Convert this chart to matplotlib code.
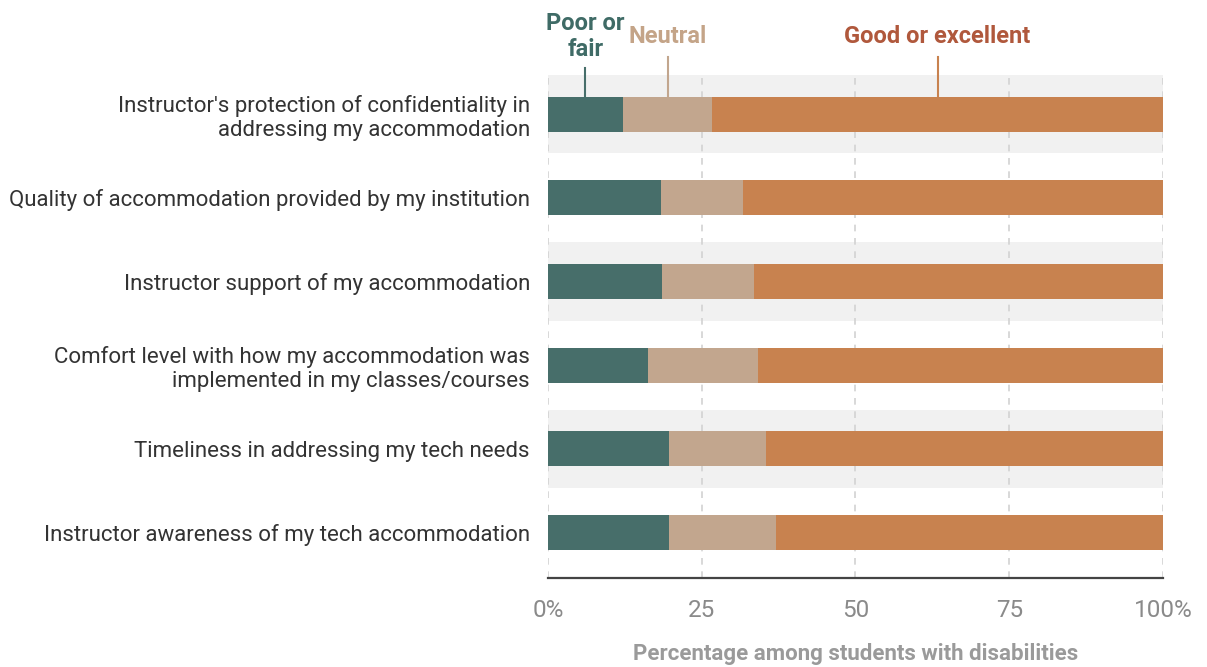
import matplotlib
matplotlib.use('Agg')
import matplotlib.pyplot as plt

plt.rcParams['font.family'] = ['Roboto', 'DejaVu Sans']

categories = [
    "Instructor's protection of confidentiality in\naddressing my accommodation",
    "Quality of accommodation provided by my institution",
    "Instructor support of my accommodation",
    "Comfort level with how my accommodation was\nimplemented in my classes/courses",
    "Timeliness in addressing my tech needs",
    "Instructor awareness of my tech accommodation",
]
poor = [12.2, 18.4, 18.6, 16.3, 19.6, 19.7]
neutral = [14.5, 13.3, 14.9, 17.8, 15.8, 17.3]
good = [round(100 - p - n, 1) for p, n in zip(poor, neutral)]

series_names = ['Poor or\nfair', 'Neutral', 'Good or excellent']
bar_colors = ['#476e6a', '#c2a68e', '#c8824f']
text_colors = ['#3f6b66', '#c4a488', '#b0583c']

xticks = [0, 25, 50, 75, 100]
xtick_labels = ['0%', '25', '50', '75', '100%']

fig = plt.figure(figsize=(12.07, 6.67), dpi=100)
ax = fig.add_axes([0.454, 0.1334, 0.5095, 0.7542])

y_pos = list(range(len(categories)))

# alternating gray bands behind the rows
for i in y_pos:
    if i % 2 == 0:
        ax.axhspan(i - 0.467, i + 0.467, color='#f1f1f1', zorder=0, lw=0)

for x in xticks:
    ax.axvline(x, color='#d2d2d2', lw=1.2, ls=(0, (4, 4)), zorder=1)

left = [0] * len(categories)
for vals, col in zip([poor, neutral, good], bar_colors):
    ax.barh(y_pos, vals, left=left, height=0.42, color=col, zorder=2)
    left = [l + v for l, v in zip(left, vals)]

ax.set_xlim(0, 100)
ax.set_ylim(5.545, -0.47)
ax.set_yticks(y_pos)
ax.set_yticklabels(categories, fontsize=16, color='#333333', ha='right')
ax.set_xticks(xticks)
ax.set_xticklabels(xtick_labels, fontsize=17.5, color='#8a8a8a')
ax.tick_params(axis='y', length=0, pad=13)
ax.tick_params(axis='x', length=0, pad=15)

for s in ['top', 'left', 'right']:
    ax.spines[s].set_visible(False)
ax.spines['bottom'].set_color('#444444')
ax.spines['bottom'].set_linewidth(1.6)

ax.set_xlabel('Percentage among students with disabilities', fontsize=16,
              color='#9a9a9a', fontweight='bold', labelpad=15)

# series labels above the first bar with leader lines
starts = [0, poor[0], poor[0] + neutral[0]]
widths = [poor[0], neutral[0], good[0]]
line_tops = [-0.556, -0.69, -0.69]
for name, st, w, tc, bc, lt in zip(series_names, starts, widths, text_colors, bar_colors, line_tops):
    mid = st + w / 2
    ax.plot([mid, mid], [lt, -0.21], color=bc, lw=1.5, clip_on=False, zorder=3)
    ax.text(mid, -0.93, name, ha='center', va='center', fontsize=17,
            fontweight='bold', color=tc, linespacing=1.2)

fig.savefig('out.png', dpi=100)
